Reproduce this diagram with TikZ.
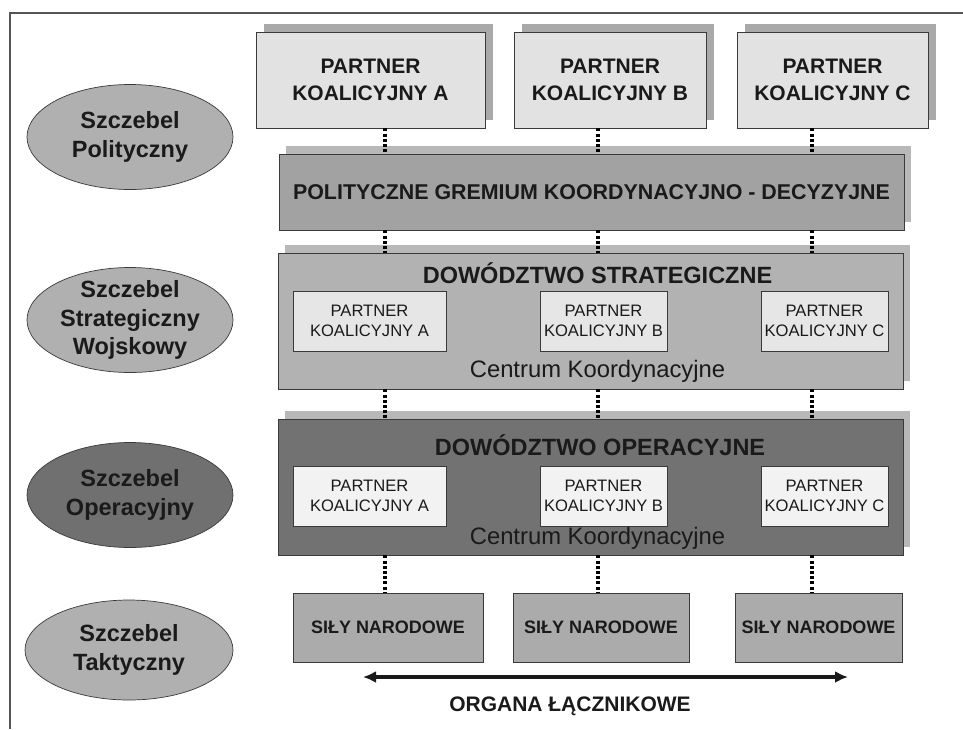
\documentclass[tikz,border=0pt]{standalone}
\usepackage{fontspec}
\setmainfont{Liberation Sans}
\usetikzlibrary{shapes.geometric,shadows,arrows.meta}
\definecolor{txt}{HTML}{1A1A1A}
\definecolor{edge}{HTML}{3A3A3A}
\definecolor{lightbox}{HTML}{E2E2E2}
\definecolor{shadowc}{HTML}{A9A9A9}
\definecolor{polfill}{HTML}{A2A2A2}
\definecolor{polshadow}{HTML}{B8B8B8}
\definecolor{strfill}{HTML}{B2B2B2}
\definecolor{opfill}{HTML}{727272}
\definecolor{innerstr}{HTML}{E6E6E6}
\definecolor{innerop}{HTML}{F2F2F2}
\definecolor{takfill}{HTML}{ABABAB}
\definecolor{ellfill}{HTML}{B0B0B0}
\definecolor{ellop}{HTML}{707070}
\definecolor{framec}{HTML}{555555}
\tikzset{
  every node/.style={text=txt},
  topbox/.style={draw=edge, line width=0.8pt, fill=lightbox, minimum height=96pt, inner sep=0pt, align=center,
    general shadow={fill=shadowc, shadow xshift=8pt, shadow yshift=8pt},
    font=\bfseries\fontsize{21}{27}\selectfont},
  bigbox/.style={draw=edge, line width=0.8pt, minimum width=625pt, inner sep=0pt,
    general shadow={fill=polshadow, shadow xshift=7pt, shadow yshift=8pt}},
  innerbox/.style={draw=edge, line width=0.7pt, minimum height=60pt, inner sep=0pt, align=center,
    font=\fontsize{16.6}{20}\selectfont},
  takbox/.style={draw=edge, line width=0.7pt, fill=takfill, minimum height=69pt, inner sep=0pt,
    font=\bfseries\fontsize{18}{22}\selectfont},
  level/.style={draw=edge, line width=0.7pt, ellipse, inner sep=0pt, minimum width=206pt, minimum height=105pt},
  leveltext/.style={align=center, inner sep=0pt, font=\bfseries\fontsize{23.5}{28.5}\selectfont},
  titletext/.style={inner sep=0pt, font=\bfseries\fontsize{23.5}{28}\selectfont},
  centrum/.style={inner sep=0pt, font=\fontsize{23.8}{28}\selectfont},
  dotline/.style={line width=3.2pt, dash pattern=on 3pt off 2.2pt, draw=black},
}
\begin{document}
\begin{tikzpicture}[x=1pt,y=-1pt]
\useasboundingbox[fill=white] (0,0) rectangle (963,729);
% frame
\draw[framec, line width=2pt] (963,13) -- (10,13) -- (10,729);

% column coordinates for connectors
\coordinate (colA) at (385,0);
\coordinate (colB) at (598,0);
\coordinate (colC) at (812,0);

% top partners
\node[topbox, minimum width=229pt] (pA) at (370.5,80) {PARTNER\\KOALICYJNY A};
\node[topbox, minimum width=192pt] (pB) at (610,80) {PARTNER\\KOALICYJNY B};
\node[topbox, minimum width=191pt] (pC) at (832.5,80) {PARTNER\\KOALICYJNY C};

% political body
\node[bigbox, fill=polfill, minimum height=76pt, font=\bfseries\fontsize{21.4}{25}\selectfont] (pol) at (591.5,192)
  {POLITYCZNE GREMIUM KOORDYNACYJNO - DECYZYJNE};

% strategic command
\node[bigbox, fill=strfill, minimum height=136pt] (str) at (590.5,321) {};
\node[titletext] (strT) at (597.5,273) {DOWÓDZTWO STRATEGICZNE};
\node[innerbox, fill=innerstr, minimum width=153pt] (sA) at (369.5,321) {PARTNER\\KOALICYJNY A};
\node[innerbox, fill=innerstr, minimum width=127pt] (sB) at (603.5,321) {PARTNER\\KOALICYJNY B};
\node[innerbox, fill=innerstr, minimum width=127pt] (sC) at (824.5,321) {PARTNER\\KOALICYJNY C};
\node[centrum] (strC) at (597.5,371) {Centrum Koordynacyjne};

% operational command
\node[bigbox, fill=opfill, minimum height=136pt] (op) at (590.5,487) {};
\node[titletext] (opT) at (600,445) {DOWÓDZTWO OPERACYJNE};
\node[innerbox, fill=innerop, minimum width=153pt] (oA) at (369.5,496) {PARTNER\\KOALICYJNY A};
\node[innerbox, fill=innerop, minimum width=127pt] (oB) at (603.5,496) {PARTNER\\KOALICYJNY B};
\node[innerbox, fill=innerop, minimum width=127pt] (oC) at (824.5,496) {PARTNER\\KOALICYJNY C};
\node[centrum] (opC) at (597.5,538) {Centrum Koordynacyjne};

% tactical
\node[takbox, minimum width=190pt] (tA) at (388,627.5) {SIŁY NARODOWE};
\node[takbox, minimum width=176pt] (tB) at (601,627.5) {SIŁY NARODOWE};
\node[takbox, minimum width=167pt] (tC) at (818.5,627.5) {SIŁY NARODOWE};

% dotted connectors
\foreach \c in {A,B,C}{
  \draw[dotline] (p\c.south -| col\c) -- (pol.north -| col\c);
  \draw[dotline] (pol.south -| col\c) -- (str.north -| col\c);
  \draw[dotline] (str.south -| col\c) -- (op.north -| col\c);
  \draw[dotline] (op.south -| col\c) -- (t\c.north -| col\c);
}

% level ellipses
\node[level, fill=ellfill] (e1) at (130,137) {};
\node[leveltext] at (e1.center) {Szczebel\\Polityczny};
\node[level, fill=ellfill] (e2) at (130,320) {};
\node[leveltext] at (e2.center) {Szczebel\\Strategiczny\\Wojskowy};
\node[level, fill=ellop] (e3) at (130,495) {};
\node[leveltext] at (e3.center) {Szczebel\\Operacyjny};
\node[level, fill=ellfill, minimum height=100pt, minimum width=208pt] (e4) at (129,650) {};
\node[leveltext] at (e4.center) {Szczebel\\Taktyczny};

% liaison arrow
\coordinate (arrL) at (363,677);
\coordinate (arrR) at (848,677);
\draw[line width=3.8pt, black!90, {Latex[length=13pt,width=12pt]}-{Latex[length=13pt,width=12pt]}] (arrL) -- (arrR);
\node[inner sep=0pt, font=\bfseries\fontsize{21}{25}\selectfont] (org) at (570,706) {ORGANA ŁĄCZNIKOWE};
\end{tikzpicture}
\end{document}
